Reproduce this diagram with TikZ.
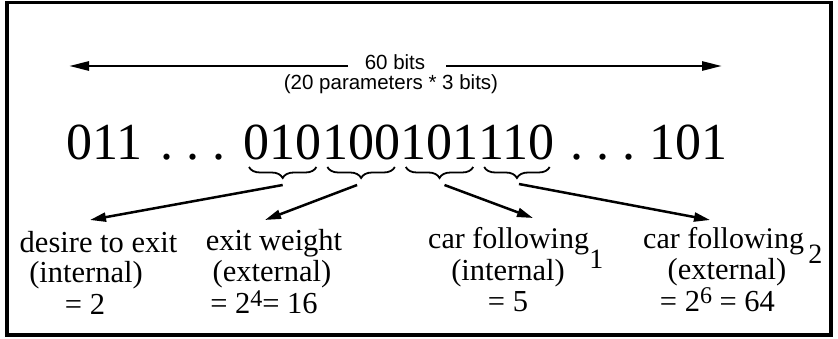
\documentclass[tikz,border=0pt]{standalone}
\usepackage{fontspec}
\setmainfont{Liberation Serif}
\newfontfamily\hel{Liberation Sans}
\usetikzlibrary{arrows.meta,decorations.pathreplacing,calc}
\begin{document}
\begin{tikzpicture}[x=1pt,y=-1pt,
  big/.style={inner sep=0pt, anchor=base west, font=\fontsize{52}{60}\selectfont},
  lbl/.style={inner sep=0pt, anchor=base, font=\fontsize{30.5}{31}\selectfont},
  lblw/.style={inner sep=0pt, anchor=base west, font=\fontsize{30}{31}\selectfont},
  subs/.style={inner sep=0pt, anchor=base west, font=\fontsize{28}{28}\selectfont},
  hdr/.style={inner sep=0pt, anchor=base, font=\hel\fontsize{20.5}{21}\selectfont},
  arr/.style={line width=2.5pt, -{Triangle[length=16pt,width=9pt]}},
  toparr/.style={line width=2.8pt, -{Triangle[length=20pt,width=9pt]}},
  brc/.style={line width=1.8pt, decorate, decoration={brace,mirror,amplitude=11pt}},
]
\useasboundingbox (0,0) rectangle (838,339);
\draw[line width=3.5pt] (7,2.5) rectangle (831,335);

% header
\node[hdr] (bits) at (395,70) {60 bits};
\node[hdr] (par) at (391,90) {(20 parameters * 3 bits)};
\coordinate (ls) at (348,66);
\coordinate (le) at (69,66);
\coordinate (rs) at (446,66);
\coordinate (re) at (722,66);
\draw[toparr] (ls) -- (le);
\draw[toparr] (rs) -- (re);

% bit string
\node[big] (a0) at (66,160) {011};
\node[big] (d1) at (160.5,160) {.\hspace{13pt}.\hspace{13pt}.};
\node[big] (g1) at (243.5,160) {010};
\node[big] (g2) at (g1.base east) {100};
\node[big] (g3) at (g2.base east) {101};
\node[big] (g4) at (g3.base east) {110};
\node[big] (d2) at (570.5,160) {.\hspace{13pt}.\hspace{13pt}.};
\node[big] (a5) at (649,160) {101};

% braces
\foreach \g in {g1,g2,g3,g4}{
  \draw[brc] ($(\g.base west)+(5.5,7)$) -- ($(\g.base east)+(-5.5,7)$);
}

% labels
\node[lbl] (l1a) at (98.5,252) {desire to exit};
\node[lbl] (l1b) at (86,282) {(internal)};
\node[lbl] (l1c) at (85,314) {= 2};

\node[lbl] (l2a) at (274,251) {exit weight};
\node[lbl] (l2b) at (272,281) {(external)};
\node[lbl] (l2c) at (264,313) {= 2\raisebox{7pt}{\fontsize{24}{24}\selectfont 4}= 16};

\node[lblw] (l3a) at (428,248) {car following};
\node[subs] (l3s) at ($(l3a.base east)+(0,21)$) {1};
\node[lbl] (l3b) at (508,280) {(internal)};
\node[lbl] (l3c) at (508,311) {= 5};

\node[lblw] (l4a) at (643,248) {car following};
\node[subs] (l4s) at ($(l4a.base east)+(4,15)$) {2};
\node[lbl] (l4b) at (727,279) {(external)};
\node[lbl] (l4c) at (717.5,311) {= 2\raisebox{8pt}{\fontsize{24}{24}\selectfont 6} = 64};

% connectors
\coordinate (s1) at ($(g1.base)+(0,25)$);
\coordinate (s2) at ($(g2.base)+(-4,25)$);
\coordinate (s3) at ($(g3.base)+(5,25)$);
\coordinate (s4) at ($(g4.base)+(2,24)$);
\coordinate (e1) at (90,220);
\coordinate (e2) at (265,220);
\coordinate (e3) at (533,218);
\coordinate (e4) at (710,220);
\draw[arr] (s1) -- (e1);
\draw[arr] (s2) -- (e2);
\draw[arr] (s3) -- (e3);
\draw[arr] (s4) -- (e4);
\end{tikzpicture}
\end{document}
